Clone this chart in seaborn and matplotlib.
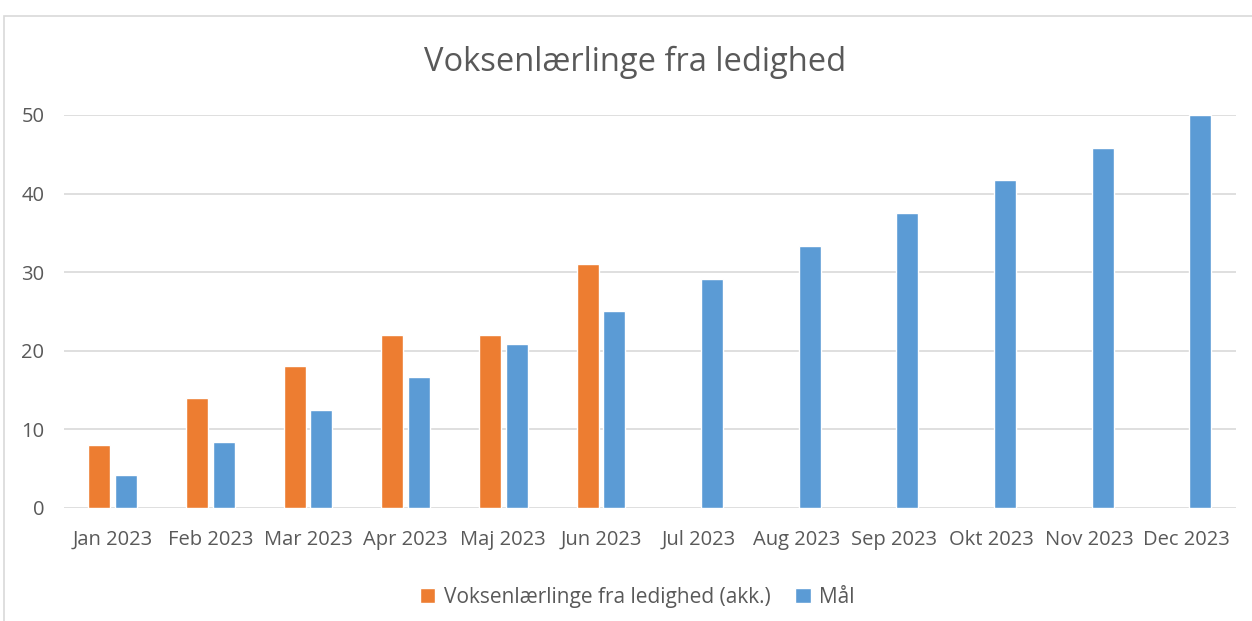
import pandas as pd
import seaborn as sns
import matplotlib.pyplot as plt
from matplotlib.patches import Rectangle

# chart values
months = ['Jan 2023', 'Feb 2023', 'Mar 2023', 'Apr 2023', 'Maj 2023', 'Jun 2023',
          'Jul 2023', 'Aug 2023', 'Sep 2023', 'Okt 2023', 'Nov 2023', 'Dec 2023']
actual = [8, 14, 18, 22, 22, 31]
target = [4.17, 8.33, 12.5, 16.67, 20.83, 25, 29.17, 33.33, 37.5, 41.67, 45.83, 50]
series_names = ['Voksenlærlinge fra ledighed (akk.)', 'Mål']

rows = []
for m, v in zip(months, actual):
    rows.append({'month': m, 'series': series_names[0], 'value': v})
for m, v in zip(months, target):
    rows.append({'month': m, 'series': series_names[1], 'value': v})
df = pd.DataFrame(rows)

sns.set_style('white')
plt.rcParams['font.family'] = ['Open Sans', 'DejaVu Sans']
grey = '#595959'

fig = plt.figure(figsize=(12.52, 6.21), dpi=100)
ax = fig.add_axes([0.051, 0.182, 0.936, 0.633])

sns.barplot(data=df, x='month', y='value', hue='series', order=months,
            hue_order=series_names, palette=['#ED7D31', '#5B9BD5'],
            width=0.55, gap=0.18, saturation=1, ax=ax, zorder=3)

ax.set_ylim(0, 50)
ax.set_yticks([0, 10, 20, 30, 40, 50])
ax.yaxis.grid(True, color='#D9D9D9', linewidth=1.2, zorder=0)
ax.set_axisbelow(True)
for s in ax.spines.values():
    s.set_visible(False)
ax.set_xlabel('')
ax.set_ylabel('')
ax.tick_params(axis='x', length=0, pad=16, labelsize=14.5, labelcolor=grey)
ax.tick_params(axis='y', length=0, pad=14, labelsize=14.5, labelcolor=grey)

fig.text(0.507, 0.9, 'Voksenlærlinge fra ledighed', ha='center', va='center',
         fontsize=23.5, color=grey)

handles, labels = ax.get_legend_handles_labels()
ax.legend(handles, labels, loc='center', bbox_to_anchor=(0.509, 0.038),
          bbox_transform=fig.transFigure, ncol=2, frameon=False,
          fontsize=15, labelcolor=grey, handlelength=0.75, handleheight=0.75,
          handletextpad=0.4, columnspacing=1.2)

# chart border
fig.patches.append(Rectangle((4 / 1252, -0.1), 1.2, 1 - 16 / 621 + 0.1,
                             transform=fig.transFigure, fill=False,
                             edgecolor='#D9D9D9', linewidth=1.2))

fig.savefig('out.png', dpi=100)
